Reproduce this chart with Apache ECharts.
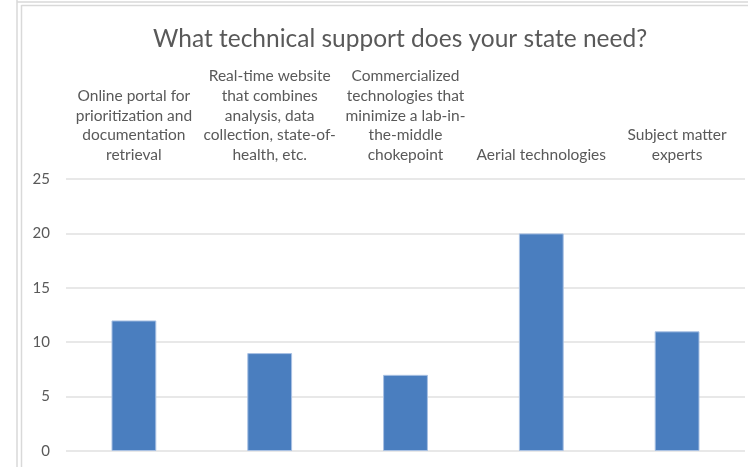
<!DOCTYPE html>
<html>
<head>
<meta charset="utf-8">
<script src="https://cdn.jsdelivr.net/npm/echarts@6/dist/echarts.min.js"></script>
<style>html,body{margin:0;padding:0;background:#fff;}#c{width:748px;height:467px;}</style>
</head>
<body>
<div id="c"></div>
<script>
var titleText = 'What technical support does your state need?';
var categories = [
  'Online portal for\nprioritization and\ndocumentation\nretrieval',
  'Real-time website\nthat combines\nanalysis, data\ncollection, state-of-\nhealth, etc.',
  'Commercialized\ntechnologies that\nminimize a lab-in-\nthe-middle\nchokepoint',
  'Aerial technologies',
  'Subject matter\nexperts'
];
var values = [12, 9, 7, 20, 11];
var yTicks = [0, 5, 10, 15, 20, 25];

var FONT = 'Lato';
var chart = echarts.init(document.getElementById('c'));
chart.setOption({
  animation: false,
  backgroundColor: '#ffffff',
  title: {
    text: titleText,
    left: 148,
    top: 22,
    textStyle: {fontFamily: FONT, fontSize: 24.5, fontWeight: 'normal', color: '#595959'}
  },
  grid: {left: 66, right: 3, top: 179, bottom: 16, containLabel: false},
  xAxis: {
    type: 'category',
    position: 'top',
    data: categories,
    axisLine: {show: false},
    axisTick: {show: false},
    axisLabel: {
      interval: 0,
      margin: 14,
      fontFamily: FONT,
      fontSize: 15.5,
      lineHeight: 19.8,
      color: '#595959',
      verticalAlign: 'bottom',
      align: 'center'
    }
  },
  yAxis: {
    type: 'value',
    min: yTicks[0],
    max: yTicks[yTicks.length - 1],
    interval: 5,
    axisLine: {show: false},
    axisTick: {show: false},
    axisLabel: {fontFamily: FONT, fontSize: 15, color: '#595959', margin: 16},
    splitLine: {lineStyle: {color: '#e0e0e0', width: 1.5}}
  },
  series: [{
    type: 'bar',
    data: values,
    barWidth: '33%',
    itemStyle: {color: '#4a7ebf', borderColor: '#a9c1e3', borderWidth: 1}
  }],
  graphic: [
    {type: 'line', shape: {x1: 17, y1: 0, x2: 17, y2: 467}, style: {stroke: '#d9d9d9', lineWidth: 1.5}},
    {type: 'line', shape: {x1: 21.5, y1: 5, x2: 21.5, y2: 467}, style: {stroke: '#d9d9d9', lineWidth: 1.5}},
    {type: 'line', shape: {x1: 17, y1: 2, x2: 748, y2: 2}, style: {stroke: '#d9d9d9', lineWidth: 1.5}},
    {type: 'line', shape: {x1: 21.5, y1: 5.5, x2: 748, y2: 5.5}, style: {stroke: '#d9d9d9', lineWidth: 1.5}}
  ]
});
</script>
</body>
</html>
